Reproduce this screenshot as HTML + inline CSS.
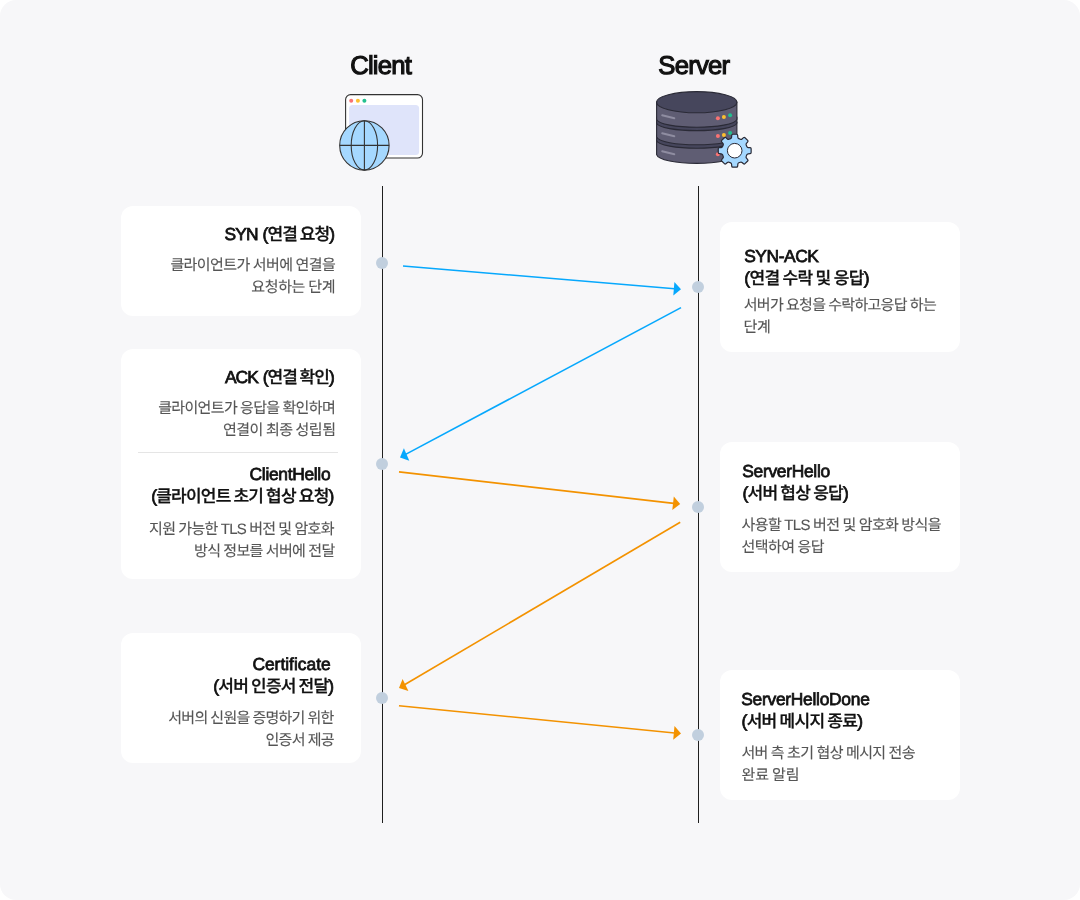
<!DOCTYPE html>
<html lang="ko">
<head>
<meta charset="utf-8">
<title>TCP / TLS Handshake</title>
<style>
*{box-sizing:border-box;margin:0;padding:0}
body{font-family:"Liberation Sans","Noto Sans CJK KR",sans-serif;color:#111;text-rendering:geometricPrecision}
.h{position:absolute;font-weight:400;font-size:25.7px;line-height:32px;white-space:nowrap;color:#111;-webkit-text-stroke:1.15px #111}
.t{position:absolute;font-weight:400;font-size:17.4px;line-height:22px;white-space:nowrap;color:#111;-webkit-text-stroke:0.75px #111;word-spacing:1px}
.t b{font-weight:500;font-size:17px;-webkit-text-stroke:0.3px #111;word-spacing:-1px}
.d{position:absolute;font-weight:400;font-size:15px;line-height:22px;white-space:nowrap;color:#555;-webkit-text-stroke:0.12px #555;word-spacing:-0.5px}
html,body{width:1080px;height:900px;background:#fff;overflow:hidden}
body{position:relative}
.stage{position:absolute;left:0;top:0;width:1080px;height:900px;background:#f7f7f9;border-radius:16px;overflow:hidden;will-change:transform}
.card{position:absolute;background:#fff;border-radius:12px;width:240px}
h2,h3,p{margin:0;font-weight:400}
.life{position:absolute;width:1px;top:186px;height:637px;background:#1f1f1f}
.dot{position:absolute;width:12px;height:12px;border-radius:50%;background:#c1cfde}
.hr{position:absolute;height:1px;background:#e5e5e5}
svg{position:absolute;left:0;top:0;overflow:visible}
</style>
</head>
<body>
<div class="stage">
  <h2 class="h" style="left:350.2px;top:50px;letter-spacing:-0.8px">Client</h2>
  <h2 class="h" style="left:658.3px;top:50px;letter-spacing:-0.77px">Server</h2>

  <section class="card left" style="left:121px;top:206px;height:110px">
    <h3 class="t" style="left:103.5px;top:17px;letter-spacing:-0.9px">SYN (<b>연결 요청</b>)</h3>
    <p class="d" style="left:49.4px;top:49px;letter-spacing:-0.58px">클라이언트가 서버에 연결을</p>
    <p class="d" style="left:130.3px;top:71px;letter-spacing:-0.38px">요청하는 단계</p>
  </section>
  <section class="card left" style="left:121px;top:349px;height:230px">
    <h3 class="t" style="left:103.9px;top:17px;letter-spacing:-0.96px">ACK (<b>연결 확인</b>)</h3>
    <p class="d" style="left:37.2px;top:49px;letter-spacing:-0.66px">클라이언트가 응답을 확인하며</p>
    <p class="d" style="left:101.9px;top:71px;letter-spacing:-0.52px">연결이 최종 성립됨</p>
    <div class="hr" style="left:17px;top:103px;width:200px"></div>
    <h3 class="t" style="left:128.6px;top:114px;letter-spacing:-0.31px">ClientHello</h3>
    <h3 class="t" style="left:30.2px;top:136px;letter-spacing:-0.78px">(<b>클라이언트 초기 협상 요청</b>)</h3>
    <p class="d" style="left:28.1px;top:170px;letter-spacing:-0.68px">지원 가능한 TLS 버전 및 암호화</p>
    <p class="d" style="left:73px;top:192px;letter-spacing:-0.65px">방식 정보를 서버에 전달</p>
  </section>
  <section class="card left" style="left:121px;top:633px;height:130px">
    <h3 class="t" style="left:131.4px;top:20px;letter-spacing:0px">Certificate</h3>
    <h3 class="t" style="left:92.3px;top:42px;letter-spacing:-0.77px">(<b>서버 인증서 전달</b>)</h3>
    <p class="d" style="left:47.3px;top:75px;letter-spacing:-0.75px">서버의 신원을 증명하기 위한</p>
    <p class="d" style="left:144.5px;top:97px;letter-spacing:-0.72px">인증서 제공</p>
  </section>
  <section class="card right" style="left:720px;top:222px;height:130px">
    <h3 class="t" style="left:24.2px;top:23px;letter-spacing:-0.42px">SYN-ACK</h3>
    <h3 class="t" style="left:24.3px;top:45px;letter-spacing:-0.64px">(<b>연결 수락 및 응답</b>)</h3>
    <p class="d" style="left:23.7px;top:73px;letter-spacing:-0.7px">서버가 요청을 수락하고응답 하는</p>
    <p class="d" style="left:23.4px;top:95px;letter-spacing:-0.3px">단계</p>
  </section>
  <section class="card right" style="left:720px;top:442px;height:130px">
    <h3 class="t" style="left:22.3px;top:18px;letter-spacing:-0.3px">ServerHello</h3>
    <h3 class="t" style="left:22.4px;top:40px;letter-spacing:-0.72px">(<b>서버 협상 응답</b>)</h3>
    <p class="d" style="left:21.5px;top:73px;letter-spacing:-0.6px">사용할 TLS 버전 및 암호화 방식을</p>
    <p class="d" style="left:21.6px;top:95px;letter-spacing:-0.59px">선택하여 응답</p>
  </section>
  <section class="card right" style="left:720px;top:670px;height:130px">
    <h3 class="t" style="left:21.3px;top:18px;letter-spacing:-0.28px">ServerHelloDone</h3>
    <h3 class="t" style="left:21.6px;top:40px;letter-spacing:-0.71px">(<b>서버 메시지 종료</b>)</h3>
    <p class="d" style="left:21.4px;top:73px;letter-spacing:-0.61px">서버 측 초기 협상 메시지 전송</p>
    <p class="d" style="left:21.6px;top:95px;letter-spacing:-0.25px">완료 알림</p>
  </section>

  <div class="life" style="left:382px"></div>
  <div class="life" style="left:698px"></div>

  <div class="dot" style="left:376px;top:257px"></div>
  <div class="dot" style="left:376px;top:458px"></div>
  <div class="dot" style="left:376px;top:692px"></div>
  <div class="dot" style="left:692px;top:281px"></div>
  <div class="dot" style="left:692px;top:501px"></div>
  <div class="dot" style="left:692px;top:729px"></div>

  <svg width="1080" height="900" viewBox="0 0 1080 900">
    <!-- client icon -->
    <g>
      <rect x="345.6" y="94.6" width="76.9" height="63.4" rx="5" ry="5" fill="#fff" stroke="#333" stroke-width="1.1"/>
      <rect x="349.1" y="104.9" width="70" height="50.2" rx="3.5" ry="3.5" fill="#dfe4fa"/>
      <circle cx="351.2" cy="100.8" r="2" fill="#fa7373"/>
      <circle cx="357.9" cy="100.8" r="2" fill="#fdc02f"/>
      <circle cx="364.4" cy="100.8" r="2" fill="#22c08f"/>
      <circle cx="364.4" cy="145.4" r="24.7" fill="#a5d8ff" stroke="#333" stroke-width="1.1"/>
      <ellipse cx="364.4" cy="145.4" rx="13.2" ry="24.7" fill="none" stroke="#333" stroke-width="1.1"/>
      <line x1="364.4" y1="120.7" x2="364.4" y2="170.1" stroke="#333" stroke-width="1.1"/>
      <line x1="339.7" y1="145.4" x2="389.1" y2="145.4" stroke="#333" stroke-width="1.1"/>
    </g>
    <!-- server icon -->
    <g stroke="#2a2a36" stroke-width="1.1" stroke-linejoin="round">
      <path d="M656.6,140 V154.6 C658.1,160.06 676.6,163.4 696.75,163.4 C716.9,163.4 735.4,160.06 736.9,154.6 V140 Z" fill="#5f5d73"/>
      <path d="M656.6,135 V140.6 C658.1,145.31 676.6,148.2 696.75,148.2 C716.9,148.2 735.4,145.31 736.9,140.6 V135 Z" fill="#46465c"/>
      <path d="M656.6,122 V136.9 C658.1,141.80 676.6,144.8 696.75,144.8 C716.9,144.8 735.4,141.80 736.9,136.9 V122 Z" fill="#5f5d73"/>
      <path d="M656.6,117 V123.1 C658.1,127.75 676.6,130.6 696.75,130.6 C716.9,130.6 735.4,127.75 736.9,123.1 V117 Z" fill="#46465c"/>
      <path d="M656.6,101.9 V119.3 C658.1,124.20 676.6,127.2 696.75,127.2 C716.9,127.2 735.4,124.20 736.9,119.3 V101.9 Z" fill="#5f5d73"/>
      <ellipse cx="696.75" cy="102.2" rx="40.15" ry="10.6" fill="#46465c"/>
    </g>
    <g stroke="#8f8da1" stroke-width="2" stroke-linecap="round">
      <line x1="662.2" y1="115.3" x2="674.3" y2="118.3"/>
      <line x1="662.2" y1="133.2" x2="674.3" y2="136.2"/>
      <line x1="662.2" y1="151.3" x2="674.3" y2="154.3"/>
    </g>
    <g>
      <circle cx="717.9" cy="118.2" r="2" fill="#fa7373"/>
      <circle cx="723.9" cy="117" r="2" fill="#fdc02f"/>
      <circle cx="730.1" cy="115.3" r="2" fill="#22c08f"/>
      <circle cx="717.9" cy="135.9" r="2" fill="#fa7373"/>
      <circle cx="723.9" cy="134.9" r="2" fill="#fdc02f"/>
      <circle cx="730.1" cy="133.1" r="2" fill="#22c08f"/>
      <circle cx="717.9" cy="154.3" r="2" fill="#fa7373"/>
    </g>
    <path d="M730.58,138.58Q731.51,138.20 731.58,137.20L731.72,135.25Q731.79,134.26 732.79,134.26L736.61,134.26Q737.61,134.26 737.68,135.25L737.82,137.20Q737.89,138.20 738.82,138.58L740.36,139.22Q741.28,139.61 742.04,138.95L743.52,137.67Q744.27,137.02 744.98,137.72L747.68,140.42Q748.38,141.13 747.73,141.88L746.45,143.36Q745.79,144.12 746.18,145.04L746.82,146.58Q747.20,147.51 748.20,147.58L750.15,147.72Q751.14,147.79 751.14,148.79L751.14,152.61Q751.14,153.61 750.15,153.68L748.20,153.82Q747.20,153.89 746.82,154.82L746.18,156.36Q745.79,157.28 746.45,158.04L747.73,159.52Q748.38,160.27 747.68,160.98L744.98,163.68Q744.27,164.38 743.52,163.73L742.04,162.45Q741.28,161.79 740.36,162.18L738.82,162.82Q737.89,163.20 737.82,164.20L737.68,166.15Q737.61,167.14 736.61,167.14L732.79,167.14Q731.79,167.14 731.72,166.15L731.58,164.20Q731.51,163.20 730.58,162.82L729.04,162.18Q728.12,161.79 727.36,162.45L725.88,163.73Q725.13,164.38 724.42,163.68L721.72,160.98Q721.02,160.27 721.67,159.52L722.95,158.04Q723.61,157.28 723.22,156.36L722.58,154.82Q722.20,153.89 721.20,153.82L719.25,153.68Q718.26,153.61 718.26,152.61L718.26,148.79Q718.26,147.79 719.25,147.72L721.20,147.58Q722.20,147.51 722.58,146.58L723.22,145.04Q723.61,144.12 722.95,143.36L721.67,141.88Q721.02,141.13 721.72,140.42L724.42,137.72Q725.13,137.02 725.88,137.67L727.36,138.95Q728.12,139.61 729.04,139.22Z" fill="#a5d8ff" stroke="#2a2a36" stroke-width="1.2" stroke-linejoin="round"/>
    <circle cx="734.7" cy="150.7" r="7.3" fill="#fff" stroke="#2a2a36" stroke-width="1"/>
    <!-- arrows -->
    <g stroke-linecap="butt">
      <line x1="403.0" y1="266.0" x2="674.6" y2="288.8" stroke="#06a8fd" stroke-width="1.6"/><polygon points="681.0,289.3 673.3,295.5 674.4,281.9" fill="#06a8fd"/>
      <line x1="681.0" y1="307.6" x2="405.6" y2="454.4" stroke="#06a8fd" stroke-width="1.6"/><polygon points="400.0,457.4 403.9,448.3 409.3,460.8" fill="#06a8fd"/>
      <line x1="399.0" y1="471.9" x2="673.8" y2="503.4" stroke="#f39200" stroke-width="1.6"/><polygon points="680.2,504.1 672.3,510.0 673.8,496.5" fill="#f39200"/>
      <line x1="680.2" y1="522.2" x2="404.5" y2="684.8" stroke="#f39200" stroke-width="1.6"/><polygon points="399.0,688.1 402.6,678.9 408.4,691.1" fill="#f39200"/>
      <line x1="399.0" y1="705.8" x2="674.6" y2="733.0" stroke="#f39200" stroke-width="1.6"/><polygon points="681.0,733.6 673.2,739.7 674.5,726.1" fill="#f39200"/>
    </g>
  </svg>

</div>
</body>
</html>
